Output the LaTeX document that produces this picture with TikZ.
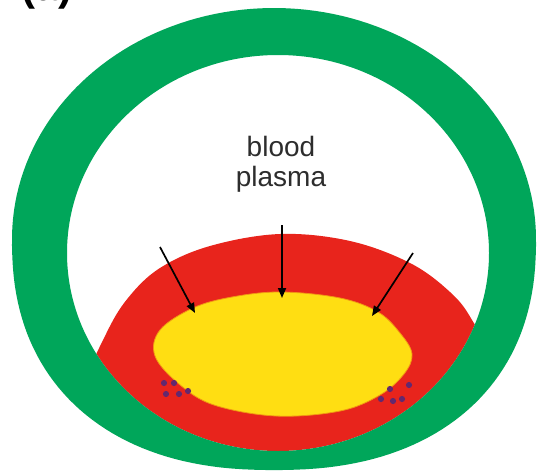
\documentclass[tikz,border=0pt]{standalone}
\usepackage{fontspec}
\setmainfont{Liberation Sans}
\usetikzlibrary{arrows.meta}
\definecolor{ringgreen}{RGB}{0,166,90}
\definecolor{cellred}{RGB}{232,36,28}
\definecolor{coreyellow}{RGB}{255,222,18}
\definecolor{coreedge}{RGB}{240,150,20}
\definecolor{dotpurple}{RGB}{100,40,110}
\definecolor{labelgray}{RGB}{45,45,45}
\tikzset{
  flux/.style={draw=black, line width=1.7pt, -{Triangle[length=10pt,width=8pt]}},
  granule/.style={fill=dotpurple},
  label/.style={text=labelgray, font=\fontsize{28}{30}\selectfont, align=center, inner sep=0pt},
}
% inner rim of the ring
\def\innerrim{(278,253) ellipse [x radius=211, y radius=198]}
\begin{document}
\begin{tikzpicture}[x=1pt, y=-1pt]
  \useasboundingbox (0,0) rectangle (540,474);
  \clip (0,0) rectangle (540,474);
  \fill[white] (0,0) rectangle (540,474);

  % panel letter, mostly above the frame
  \node[anchor=base, font=\bfseries\fontsize{42}{42}\selectfont, inner sep=0pt] (panel) at (47,0) {(a)};

  % red layer, bounded below by the ring
  \begin{scope}
    \clip \innerrim;
    \fill[cellred] plot[smooth cycle, tension=0.6] coordinates {
      (82,392) (106,334) (128,298) (160,268) (210,246) (280,234) (350,241)
      (410,263) (450,292) (472,320) (495,370) (480,470) (276,495) (70,470)};
  \end{scope}

  % green ring: elliptical top, fuller bottom, elliptical inner rim
  \fill[ringgreen, even odd rule]
    plot[domain=1:359, samples=180, variable=\t]
      ({274+262*sign(cos(\t))*abs(cos(\t))^(sin(\t)>0 ? 0.87 : 1)},
       {239+231*sign(sin(\t))*abs(sin(\t))^(sin(\t)>0 ? 0.87 : 1)}) -- cycle
    \innerrim;

  % yellow core
  \filldraw[fill=coreyellow, draw=coreedge, line width=0.8pt]
    plot[smooth cycle, tension=0.6] coordinates {
      (281,292) (340,298) (378,312) (400,333) (412,354) (404,374)
      (380,395) (340,411) (276,416) (214,405) (179,384) (155,356)
      (160,330) (193,308) (232,297)};

  % granules
  \foreach \gx/\gy in {164/383, 174/383, 166/394, 179/394, 188/391,
                       390/389, 409/385, 381/399, 393/401, 402/399}
    \fill[granule] (\gx,\gy) circle (3.1pt);

  % label
  \node[label] (plasma) at (281,164) {blood\\plasma};

  % inward arrows
  \coordinate (l0) at (160,247);
  \coordinate (l1) at (195,313);
  \coordinate (m0) at (282,225);
  \coordinate (m1) at (282,298);
  \coordinate (r0) at (413,253);
  \coordinate (r1) at (372,316);
  \draw[flux] (l0) -- (l1);
  \draw[flux] (m0) -- (m1);
  \draw[flux] (r0) -- (r1);
\end{tikzpicture}
\end{document}
